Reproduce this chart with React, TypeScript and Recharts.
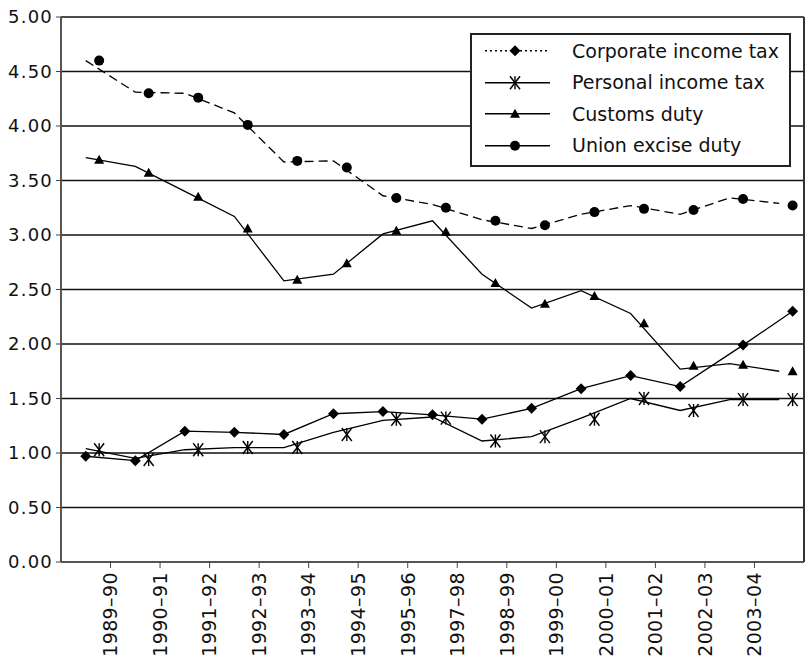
import { LineChart, Line, XAxis, YAxis, CartesianGrid, ReferenceLine } from "recharts";

const FONT = "DejaVu Sans";

const periods = [
  "1989–90",
  "1990–91",
  "1991–92",
  "1992–93",
  "1993–94",
  "1994–95",
  "1995–96",
  "1997–98",
  "1998–99",
  "1999–00",
  "2000–01",
  "2001–02",
  "2002–03",
  "2003–04",
];

// 15 year bands; lines are drawn at the band centre, markers sit a bit to the right
const corporateIncomeTax = [0.97, 0.93, 1.2, 1.19, 1.17, 1.36, 1.38, 1.35, 1.31, 1.41, 1.59, 1.71, 1.61, 1.99, 2.3];
const personalLine = [1.04, 0.95, 1.03, 1.05, 1.05, 1.19, 1.3, 1.33, 1.11, 1.15, 1.32, 1.5, 1.39, 1.49, 1.49];
const personalMarks = [1.03, 0.94, 1.03, 1.05, 1.05, 1.17, 1.31, 1.32, 1.11, 1.15, 1.31, 1.5, 1.39, 1.49, 1.49];
const customsLine = [3.71, 3.63, 3.4, 3.17, 2.58, 2.64, 3.01, 3.13, 2.64, 2.33, 2.49, 2.28, 1.77, 1.82, 1.75];
const customsMarks = [3.69, 3.57, 3.35, 3.06, 2.59, 2.74, 3.04, 3.03, 2.56, 2.37, 2.44, 2.19, 1.8, 1.81, 1.75];
const exciseLine = [4.6, 4.31, 4.3, 4.12, 3.67, 3.68, 3.36, 3.28, 3.14, 3.06, 3.19, 3.27, 3.19, 3.34, 3.29];
const exciseMarks = [4.6, 4.3, 4.26, 4.01, 3.68, 3.62, 3.34, 3.25, 3.13, 3.09, 3.21, 3.24, 3.23, 3.33, 3.27];

const yTicks = [0, 0.5, 1, 1.5, 2, 2.5, 3, 3.5, 4, 4.5, 5];

const CENTRE = 0.5;
const SHIFT = 0.77;

const atBand = (vals: number[], pos: number) => vals.map((v, i) => ({ x: i + pos, v }));

// the last two corporate diamonds are shifted like the other markers
const corporateData = corporateIncomeTax.map((v, i) => ({ x: i + (i >= 13 ? SHIFT : CENTRE), v }));

function Diamond({ cx, cy, s = 5.5 }: any) {
  if (cx == null || cy == null) return null;
  return <path d={`M${cx} ${cy - s}L${cx + s} ${cy}L${cx} ${cy + s}L${cx - s} ${cy}Z`} fill="#000" />;
}

function Star({ cx, cy }: any) {
  if (cx == null || cy == null) return null;
  const w = 5;
  const h = 6.5;
  return (
    <g stroke="#000" strokeWidth={1.4} fill="none">
      <line x1={cx - w} y1={cy - h} x2={cx + w} y2={cy + h} />
      <line x1={cx + w} y1={cy - h} x2={cx - w} y2={cy + h} />
      <line x1={cx} y1={cy - h} x2={cx} y2={cy + h} />
    </g>
  );
}

function Triangle({ cx, cy, s = 5 }: any) {
  if (cx == null || cy == null) return null;
  return <path d={`M${cx} ${cy - s}L${cx + s} ${cy + s * 0.8}L${cx - s} ${cy + s * 0.8}Z`} fill="#000" />;
}

function Dot({ cx, cy, r = 5 }: any) {
  if (cx == null || cy == null) return null;
  return <circle cx={cx} cy={cy} r={r} fill="#000" />;
}

const marker = (Shape: any) => (p: any) => <Shape key={p.index} cx={p.cx} cy={p.cy} />;

function PeriodTick({ x, y, payload }: any) {
  return (
    <text
      x={x}
      y={y}
      transform={`rotate(-90 ${x} ${y})`}
      textAnchor="end"
      dy="0.36em"
      fontSize={19}
      fontFamily={FONT}
      letterSpacing={0.4}
      fill="#111"
    >
      {periods[payload.value - 1]}
    </text>
  );
}

const legendRows = [
  { name: "Corporate income tax", dash: "2 3", Shape: Diamond },
  { name: "Personal income tax", dash: undefined, Shape: Star },
  { name: "Customs duty", dash: undefined, Shape: Triangle },
  { name: "Union excise duty", dash: undefined, Shape: Dot },
];

function LegendBox() {
  return (
    <div
      style={{
        position: "absolute",
        left: 470,
        top: 33,
        border: "2px solid #222",
        background: "#fff",
        width: 317,
        height: 130,
        fontFamily: FONT,
        fontSize: 19,
        color: "#111",
      }}
    >
      {legendRows.map((r) => (
        <div key={r.name} style={{ display: "flex", alignItems: "center", height: 31.5 }}>
          <svg width={100} height={31.5} style={{ flex: "none" }}>
            <line x1={13} x2={78} y1={15.75} y2={15.75} stroke="#000" strokeWidth={1.3} strokeDasharray={r.dash} />
            <r.Shape cx={43} cy={15.75} />
          </svg>
          <span style={{ whiteSpace: "nowrap" }}>{r.name}</span>
        </div>
      ))}
    </div>
  );
}

export default function App() {
  return (
    <div style={{ position: "absolute", left: 0, top: 0, width: 806, height: 665, background: "#fff" }}>
      <LineChart width={806} height={665} margin={{ top: 17, right: 2, bottom: 0, left: 0 }}>
        <CartesianGrid vertical={false} stroke="#111" strokeWidth={1.3} />
        <XAxis
          type="number"
          dataKey="x"
          domain={[0, 15]}
          ticks={periods.map((_, i) => i + 1)}
          interval={0}
          height={103}
          tickSize={6}
          tickMargin={4}
          tick={<PeriodTick />}
          axisLine={{ stroke: "#555", strokeWidth: 2 }}
          tickLine={{ stroke: "#444" }}
        />
        <YAxis
          domain={[0, 5]}
          ticks={yTicks}
          interval={0}
          width={61}
          tickSize={5}
          tickMargin={3}
          tickFormatter={(v) => Number(v).toFixed(2)}
          tick={{ fontSize: 18, fontFamily: FONT, fill: "#111", letterSpacing: 1.2 }}
          axisLine={{ stroke: "#555", strokeWidth: 2 }}
          tickLine={{ stroke: "#444" }}
        />
        <ReferenceLine x={15} stroke="#333" strokeWidth={2} />

        <Line data={atBand(exciseLine, CENTRE)} dataKey="v" stroke="#000" strokeWidth={1.3} strokeDasharray="9 5" dot={false} activeDot={false} isAnimationActive={false} />
        <Line data={atBand(exciseMarks, SHIFT)} dataKey="v" stroke="none" dot={marker(Dot)} activeDot={false} isAnimationActive={false} />

        <Line data={atBand(customsLine, CENTRE)} dataKey="v" stroke="#000" strokeWidth={1.3} dot={false} activeDot={false} isAnimationActive={false} />
        <Line data={atBand(customsMarks, SHIFT)} dataKey="v" stroke="none" dot={marker(Triangle)} activeDot={false} isAnimationActive={false} />

        <Line data={atBand(personalLine, CENTRE)} dataKey="v" stroke="#000" strokeWidth={1.3} dot={false} activeDot={false} isAnimationActive={false} />
        <Line data={atBand(personalMarks, SHIFT)} dataKey="v" stroke="none" dot={marker(Star)} activeDot={false} isAnimationActive={false} />

        <Line data={corporateData} dataKey="v" stroke="#000" strokeWidth={1.3} dot={marker(Diamond)} activeDot={false} isAnimationActive={false} />
      </LineChart>
      <LegendBox />
    </div>
  );
}
